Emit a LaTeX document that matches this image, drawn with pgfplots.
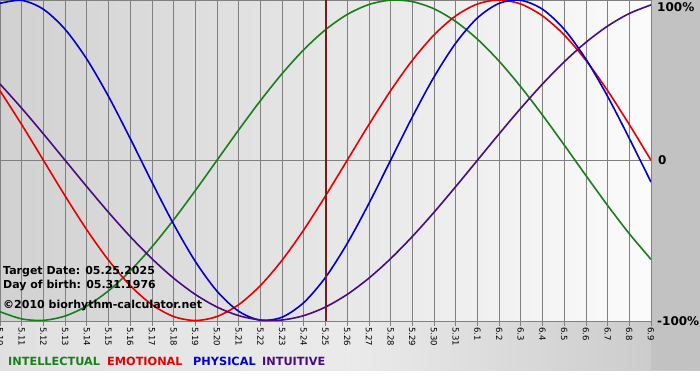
\documentclass[border=0pt]{standalone}
\usepackage{pgfplots}
\pgfplotsset{compat=1.18}
\usepackage{fontspec}
\setmainfont{DejaVu Sans}
\definecolor{cIntel}{HTML}{1A7F1A}
\definecolor{cEmo}{HTML}{E80000}
\definecolor{cPhys}{HTML}{0000D0}
\definecolor{cIntu}{HTML}{4B0A82}
\definecolor{cTarget}{HTML}{7A1A1A}
\definecolor{cGrid}{HTML}{808080}
\pgfplotstableread{
i phys emo intel intu
0 0.9791 0.4339 -0.9450 0.4759
1 0.9977 0.2225 -0.9898 0.3247
2 0.9423 0 -0.9989 0.1646
3 0.8170 -0.2225 -0.9718 0
4 0.6311 -0.4339 -0.9096 -0.1646
5 0.3984 -0.6235 -0.8146 -0.3247
6 0.1362 -0.7818 -0.6901 -0.4759
7 -0.1362 -0.9010 -0.5406 -0.6142
8 -0.3984 -0.9749 -0.3717 -0.7357
9 -0.6311 -1 -0.1893 -0.8372
10 -0.8170 -0.9749 0 -0.9158
11 -0.9423 -0.9010 0.1893 -0.9694
12 -0.9977 -0.7818 0.3717 -0.9966
13 -0.9791 -0.6235 0.5406 -0.9966
14 -0.8879 -0.4339 0.6901 -0.9694
15 -0.7308 -0.2225 0.8146 -0.9158
16 -0.5196 0 0.9096 -0.8372
17 -0.2698 0.2225 0.9718 -0.7357
18 0 0.4339 0.9989 -0.6142
19 0.2698 0.6235 0.9898 -0.4759
20 0.5196 0.7818 0.9450 -0.3247
21 0.7308 0.9010 0.8660 -0.1646
22 0.8879 0.9749 0.7557 0
23 0.9791 1 0.6182 0.1646
24 0.9977 0.9749 0.4582 0.3247
25 0.9423 0.9010 0.2817 0.4759
26 0.8170 0.7818 0.0951 0.6142
27 0.6311 0.6235 -0.0951 0.7357
28 0.3984 0.4339 -0.2817 0.8372
29 0.1362 0.2225 -0.4582 0.9158
30 -0.1362 0 -0.6182 0.9694
}\bio
\begin{document}
\begin{tikzpicture}[x=1pt,y=1pt]
\path[use as bounding box] (0,0) rectangle (700,380);
\fill[white] (0,0) rectangle (700,380);
\shade[left color=black!12, right color=black!22, middle color=black!8] (0,10) rectangle (700,59);
\fill[black!24] (651,10) rectangle (700,380);
\begin{axis}[
  at={(0pt,59pt)}, anchor=south west,
  scale only axis, width=651pt, height=321pt,
  xmin=0, xmax=30, ymin=-1.003, ymax=1.0,
  axis background/.style={left color=black!18, right color=black!1.5},
  axis line style={cGrid},
  xtick={0,...,30},
  xticklabels={5.10,5.11,5.12,5.13,5.14,5.15,5.16,5.17,5.18,5.19,5.20,5.21,5.22,5.23,5.24,5.25,5.26,5.27,5.28,5.29,5.30,5.31,6.1,6.2,6.3,6.4,6.5,6.6,6.7,6.8,6.9},
  xticklabel style={rotate=-90, anchor=west, font=\fontsize{8.5}{10}\selectfont, text=black, inner sep=1pt},
  xtick pos=lower, tick align=outside, major tick length=5pt,
  xtick style={cGrid, line width=0.8pt},
  xmajorgrids, grid style={cGrid, line width=0.8pt},
  ytick={0}, yticklabels={}, ymajorgrids, ytick style={draw=none},
  clip=true,
]
\addplot[cIntel, line width=1.6pt, smooth] table[x=i, y=intel] {\bio};
\addplot[cEmo, line width=1.6pt, smooth] table[x=i, y=emo] {\bio};
\addplot[cPhys, line width=1.6pt, smooth] table[x=i, y=phys] {\bio};
\addplot[cIntu, line width=1.6pt, smooth] table[x=i, y=intu] {\bio};
\addplot[cTarget, line width=2pt] coordinates {(15,-1.003) (15,1)};
\end{axis}
\begin{scope}[font=\fontsize{11}{13}\selectfont\bfseries]
\node[anchor=west, inner sep=0pt] at (3,108) {Target Date: 05.25.2025};
\node[anchor=west, inner sep=0pt] at (3,94) {Day of birth: 05.31.1976};
\node[anchor=west, inner sep=0pt] at (3,74) {©2010 biorhythm-calculator.net};
\end{scope}
\begin{scope}[font=\fontsize{12}{14}\selectfont\bfseries]
\node[anchor=west, inner sep=0pt] at (657,373) {100\%};
\node[anchor=west, inner sep=0pt] at (658,220) {0};
\node[anchor=west, inner sep=0pt] at (657,59) {-100\%};
\end{scope}
\begin{scope}[font=\fontsize{11.3}{13}\selectfont\bfseries]
\node[anchor=west, inner sep=0pt, text=cIntel] at (8,19) {INTELLECTUAL};
\node[anchor=west, inner sep=0pt, text=cEmo] at (107,19) {EMOTIONAL};
\node[anchor=west, inner sep=0pt, text=cPhys] at (193,19) {PHYSICAL};
\node[anchor=west, inner sep=0pt, text=cIntu] at (262,19) {INTUITIVE};
\end{scope}
\end{tikzpicture}
\end{document}
